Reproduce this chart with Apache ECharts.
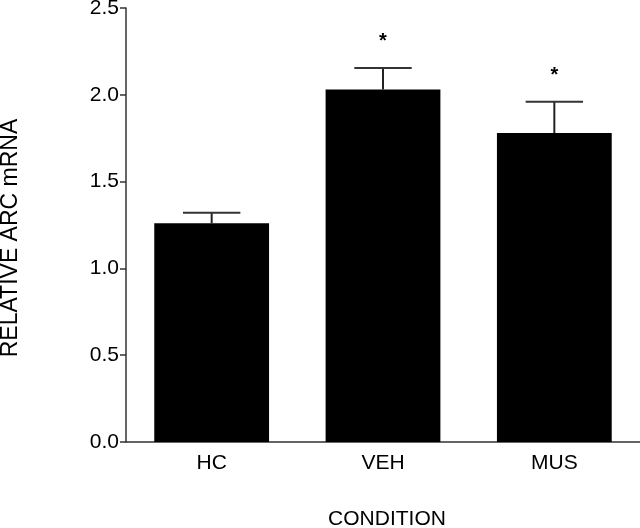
<!DOCTYPE html>
<html>
<head>
<meta charset="utf-8">
<script src="https://cdn.jsdelivr.net/npm/echarts@6/dist/echarts.min.js"></script>
<style>
  html, body { margin: 0; padding: 0; background: #fff; }
  #chart { width: 640px; height: 528px; }
</style>
</head>
<body>
<div id="chart"></div>
<script>
// data
var categories = ['HC', 'VEH', 'MUS'];
var means = [1.26, 2.03, 1.78];
var errUpper = [1.32, 2.155, 1.96];
var stars = ['', '*', '*'];
var yTicks = [0, 0.5, 1.0, 1.5, 2.0, 2.5];

var myChart = echarts.init(document.getElementById('chart'));

var font = 'Liberation Sans, Arial, sans-serif';

var option = {
    animation: false,
    backgroundColor: '#fff',
    grid: { left: 126, right: 0, top: 8, bottom: 86, outerBoundsMode: 'none', containLabel: false },
    xAxis: {
        type: 'category',
        data: categories,
        name: 'CONDITION',
        nameLocation: 'middle',
        nameGap: 67,
        nameTextStyle: { color: '#000', fontSize: 21, fontFamily: font, padding: [0, 0, 0, 8] },
        axisLine: { lineStyle: { color: '#333', width: 1.5 } },
        axisTick: { show: false },
        axisLabel: { color: '#000', fontSize: 21, fontFamily: font, margin: 11 }
    },
    yAxis: {
        type: 'value',
        min: 0,
        max: 2.5,
        interval: 0.5,
        name: 'RELATIVE ARC mRNA',
        nameLocation: 'middle',
        nameGap: 104,
        // push the title a bit below the axis middle, like the original
        nameTextStyle: { color: '#000', fontSize: 23, fontFamily: font, padding: [0, 26, 0, 0] },
        splitLine: { show: false },
        axisLine: { show: true, lineStyle: { color: '#333', width: 1.5 } },
        axisTick: { show: true, length: 6, lineStyle: { color: '#333', width: 1.5 } },
        axisLabel: {
            color: '#000', fontSize: 21, fontFamily: font, margin: 7,
            formatter: function(v) {
                // only the ticks we want, one decimal
                return yTicks.indexOf(v) >= 0 ? v.toFixed(1) : '';
            }
        }
    },
    series: [{
        type: 'bar',
        data: means,
        barWidth: '67%',
        itemStyle: { color: '#000' },
        z: 2
    }, {
        type: 'custom',
        data: categories.map(function(c, i) { return [i, means[i], errUpper[i]]; }),
        z: 3,
        renderItem: function(params, api) {
            var i = api.value(0);
            var base = api.coord([i, api.value(1)]);
            var top = api.coord([i, api.value(2)]);
            var half = api.size([1, 0])[0] * 0.67 / 4;
            var children = [
                { type: 'line', shape: { x1: base[0], y1: base[1], x2: top[0], y2: top[1] },
                  style: { stroke: '#222', lineWidth: 2 } },
                { type: 'line', shape: { x1: top[0] - half, y1: top[1], x2: top[0] + half, y2: top[1] },
                  style: { stroke: '#333', lineWidth: 2 } }
            ];
            if (stars[i]) {
                children.push({
                    type: 'text',
                    style: {
                        text: stars[i], x: top[0], y: top[1] - 26,
                        align: 'center', verticalAlign: 'middle',
                        font: 'bold 20px ' + font, fill: '#000'
                    }
                });
            }
            return { type: 'group', children: children };
        }
    }]
};

myChart.setOption(option);
</script>
</body>
</html>
